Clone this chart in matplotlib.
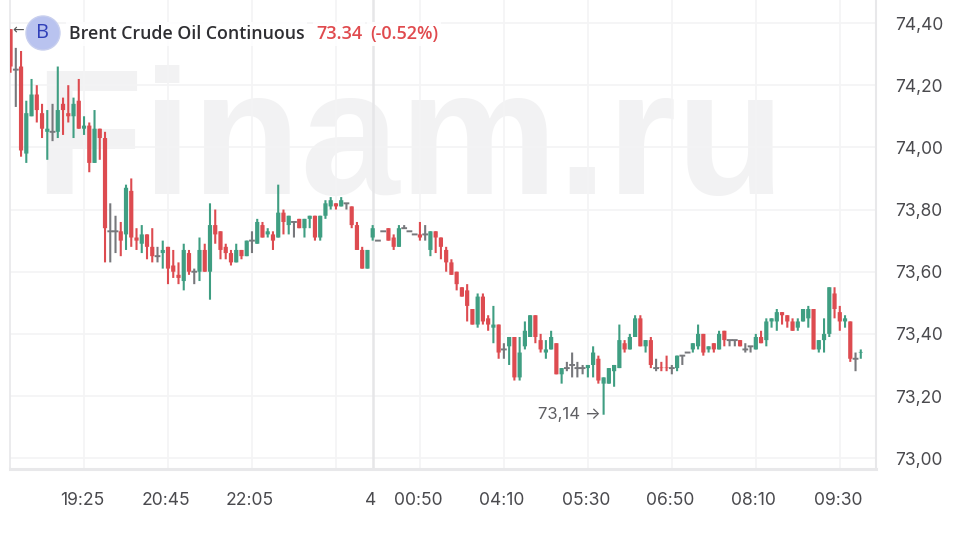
# -*- coding: utf-8 -*-
from matplotlib import pyplot as plt
from matplotlib.patches import Circle
from matplotlib.transforms import IdentityTransform, ScaledTranslation

# 5 minute candles, Brent Crude Oil Continuous
opens = [
    74.38, 74.25, 74.26, 73.98, 74.10, 74.17, 74.11, 74.05, 74.05, 74.05,
    74.14, 74.11, 74.10, 74.15, 74.06, 74.07, 73.95, 74.06, 74.03, 73.73,
    73.73, 73.73, 73.72, 73.86, 73.71, 73.69, 73.72, 73.68, 73.65, 73.66,
    73.68, 73.62, 73.59, 73.57, 73.66, 73.60, 73.60, 73.67, 73.60, 73.75,
    73.73, 73.68, 73.66, 73.63, 73.67, 73.65, 73.70, 73.69, 73.75, 73.72,
    73.72, 73.71, 73.79, 73.75, 73.76, 73.77, 73.74, 73.77, 73.78, 73.71,
    73.78, 73.81, 73.82, 73.81, 73.82, 73.81, 73.75, 73.67, 73.61, 73.71,
    73.70, 73.73, 73.74, 73.71, 73.68, 73.74, 73.73, 73.72, 73.72, 73.72,
    73.67, 73.73, 73.71, 73.67, 73.63, 73.60, 73.55, 73.54, 73.48, 73.43,
    73.52, 73.45, 73.42, 73.43, 73.35, 73.36, 73.39, 73.26, 73.36, 73.39,
    73.46, 73.38, 73.34, 73.35, 73.37, 73.27, 73.29, 73.30, 73.29, 73.29,
    73.29, 73.30, 73.32, 73.24, 73.24, 73.28, 73.29, 73.37, 73.35, 73.39,
    73.45, 73.36, 73.38, 73.29, 73.292, 73.292, 73.29, 73.29, 73.33, 73.34,
    73.35, 73.36, 73.40, 73.35, 73.37, 73.35, 73.41, 73.38, 73.38, 73.38,
    73.35, 73.36, 73.35, 73.39, 73.38, 73.44, 73.44, 73.47, 73.46, 73.44,
    73.42, 73.44, 73.45, 73.48, 73.35, 73.38, 73.40, 73.53, 73.47, 73.44,
    73.44, 73.32, 73.34,
]
highs = [
    74.38, 74.32, 74.31, 74.15, 74.22, 74.20, 74.14, 74.12, 74.14, 74.26,
    74.16, 74.20, 74.16, 74.22, 74.10, 74.08, 74.12, 74.06, 74.05, 73.82,
    73.78, 73.76, 73.88, 73.90, 73.74, 73.75, 73.72, 73.74, 73.68, 73.70,
    73.68, 73.67, 73.63, 73.69, 73.67, 73.61, 73.71, 73.69, 73.82, 73.80,
    73.73, 73.69, 73.67, 73.69, 73.67, 73.70, 73.73, 73.77, 73.76, 73.74,
    73.73, 73.88, 73.80, 73.78, 73.76, 73.77, 73.77, 73.78, 73.78, 73.78,
    73.83, 73.84, 73.82, 73.84, 73.82, 73.81, 73.76, 73.68, 73.67, 73.75,
    73.70, 73.73, 73.74, 73.72, 73.75, 73.75, 73.73, 73.72, 73.76, 73.75,
    73.73, 73.73, 73.71, 73.68, 73.64, 73.60, 73.55, 73.56, 73.48, 73.53,
    73.53, 73.46, 73.49, 73.43, 73.37, 73.39, 73.39, 73.39, 73.44, 73.46,
    73.46, 73.40, 73.38, 73.41, 73.37, 73.29, 73.31, 73.34, 73.31, 73.30,
    73.30, 73.36, 73.33, 73.26, 73.29, 73.30, 73.43, 73.38, 73.40, 73.46,
    73.46, 73.38, 73.39, 73.32, 73.31, 73.33, 73.30, 73.33, 73.33, 73.34,
    73.37, 73.43, 73.40, 73.36, 73.37, 73.41, 73.41, 73.38, 73.38, 73.38,
    73.37, 73.36, 73.40, 73.41, 73.45, 73.45, 73.48, 73.47, 73.46, 73.45,
    73.45, 73.48, 73.49, 73.48, 73.38, 73.45, 73.55, 73.55, 73.49, 73.46,
    73.44, 73.34, 73.35,
]
lows = [
    74.24, 74.13, 73.97, 73.95, 74.10, 74.08, 74.03, 73.96, 74.02, 74.03,
    74.04, 74.08, 74.03, 74.06, 74.04, 73.92, 73.95, 73.96, 73.63, 73.63,
    73.66, 73.65, 73.67, 73.68, 73.67, 73.66, 73.64, 73.63, 73.63, 73.61,
    73.56, 73.58, 73.56, 73.54, 73.59, 73.56, 73.57, 73.60, 73.51, 73.69,
    73.64, 73.64, 73.62, 73.63, 73.64, 73.65, 73.66, 73.69, 73.71, 73.71,
    73.67, 73.71, 73.72, 73.72, 73.71, 73.74, 73.71, 73.74, 73.70, 73.70,
    73.77, 73.80, 73.80, 73.81, 73.80, 73.74, 73.67, 73.61, 73.61, 73.70,
    73.70, 73.73, 73.70, 73.67, 73.68, 73.74, 73.73, 73.72, 73.70, 73.70,
    73.65, 73.66, 73.64, 73.60, 73.59, 73.54, 73.52, 73.44, 73.43, 73.42,
    73.43, 73.41, 73.37, 73.32, 73.32, 73.30, 73.25, 73.25, 73.35, 73.39,
    73.37, 73.34, 73.32, 73.35, 73.27, 73.24, 73.28, 73.26, 73.26, 73.27,
    73.26, 73.26, 73.24, 73.14, 73.24, 73.23, 73.29, 73.34, 73.35, 73.39,
    73.36, 73.34, 73.29, 73.28, 73.28, 73.28, 73.27, 73.28, 73.30, 73.34,
    73.34, 73.35, 73.33, 73.34, 73.34, 73.35, 73.36, 73.36, 73.36, 73.36,
    73.34, 73.34, 73.35, 73.37, 73.36, 73.42, 73.41, 73.43, 73.42, 73.41,
    73.41, 73.44, 73.42, 73.35, 73.34, 73.34, 73.39, 73.45, 73.41, 73.42,
    73.31, 73.28, 73.32,
]
closes = [
    74.26, 74.25, 73.99, 74.11, 74.17, 74.12, 74.06, 74.06, 74.05, 74.12,
    74.12, 74.10, 74.14, 74.06, 74.07, 73.95, 74.06, 74.03, 73.74, 73.73,
    73.73, 73.70, 73.87, 73.71, 73.70, 73.72, 73.68, 73.65, 73.65, 73.67,
    73.61, 73.60, 73.58, 73.67, 73.60, 73.60, 73.67, 73.60, 73.75, 73.72,
    73.67, 73.66, 73.63, 73.67, 73.65, 73.70, 73.70, 73.76, 73.71, 73.73,
    73.70, 73.79, 73.76, 73.78, 73.76, 73.74, 73.77, 73.78, 73.71, 73.78,
    73.82, 73.83, 73.81, 73.83, 73.82, 73.75, 73.67, 73.61, 73.67, 73.74,
    73.70, 73.73, 73.70, 73.68, 73.74, 73.74, 73.73, 73.72, 73.71, 73.72,
    73.73, 73.71, 73.68, 73.63, 73.59, 73.56, 73.52, 73.49, 73.43, 73.52,
    73.44, 73.43, 73.43, 73.34, 73.35, 73.39, 73.26, 73.34, 73.41, 73.46,
    73.39, 73.35, 73.35, 73.39, 73.27, 73.29, 73.29, 73.30, 73.29, 73.29,
    73.30, 73.34, 73.25, 73.26, 73.29, 73.30, 73.38, 73.35, 73.39, 73.45,
    73.36, 73.38, 73.30, 73.29, 73.29, 73.29, 73.29, 73.33, 73.33, 73.34,
    73.37, 73.40, 73.34, 73.36, 73.35, 73.40, 73.38, 73.38, 73.38, 73.36,
    73.35, 73.36, 73.39, 73.37, 73.44, 73.45, 73.47, 73.46, 73.44, 73.41,
    73.44, 73.48, 73.48, 73.35, 73.38, 73.40, 73.55, 73.48, 73.44, 73.45,
    73.32, 73.32, 73.342,
]

price_ticks = [73.0, 73.2, 73.4, 73.6, 73.8, 74.0, 74.2, 74.4]
grid_bars = [14, 30, 46, 62, 78, 94, 110, 126, 142, 158]
time_bars = [14, 30, 46, 69, 78, 94, 110, 126, 142, 158]
time_labels = ["19:25", "20:45", "22:05", "4", "00:50", "04:10", "05:30",
               "06:50", "08:10", "09:30"]
day_bar = 69

RED = "#dd4b50"
GREEN = "#3f9e82"
GRAY = "#77787c"
GRID = "#f4f4f5"
LINE = "#e8e8ea"
TEXT = "#4a4a4e"

W, H = 957, 537
fig = plt.figure(figsize=(W / 100, H / 100), dpi=100, facecolor="white")
ax = fig.add_axes([9.5 / W, (H - 468.5) / H, 866.5 / W, 468.5 / H])
ax.set_xlim(-0.2, 164.9)
ax.set_ylim(72.967, 74.474)
ax.set_facecolor("white")

ax.spines["top"].set_visible(False)
for s in ["left", "right", "bottom"]:
    ax.spines[s].set_color(LINE)
ax.spines["left"].set_linewidth(1.2)
ax.spines["right"].set_linewidth(1.5)
ax.spines["bottom"].set_linewidth(2.2)

# watermark, kept inside the axes so that the candles stay on top
ax.text(34 / W, 1 - 194 / H, "Finam.ru", transform=fig.transFigure,
        family="Liberation Sans", weight="bold", size=128, color="#f2f2f3",
        ha="left", va="baseline", zorder=0.5, clip_on=False)

# grid
for p in price_ticks:
    ax.axhline(p, color=GRID, lw=1.2, zorder=1)
for b in grid_bars:
    ax.axvline(b, color=GRID, lw=1.2, zorder=1)
ax.axvline(day_bar, color="#e6e6e8", lw=1.8, zorder=1)

# candles, no pixel snapping or the widths come out uneven
for i, (o, h, l, c) in enumerate(zip(opens, highs, lows, closes, strict=True)):
    col = GRAY if o == c else (GREEN if c > o else RED)
    ax.vlines(i, l, h, color=col, lw=1.5, zorder=3, snap=False)
    if o == c:
        ax.hlines(o, i - 0.55, i + 0.55, color=col, lw=1.4, zorder=3, snap=False)
    else:
        ax.bar(i, abs(c - o), bottom=min(o, c), width=0.8, color=col,
               linewidth=0, zorder=4, snap=False)

# lowest price marker
low_bar = lows.index(min(lows))
ax.annotate("73,14 \u2192", xy=(low_bar, min(lows)), xytext=(-3, 0),
            textcoords="offset pixels", ha="right", va="center",
            family="Inter", size=12, color="#5f5f63", zorder=5)

ax.yaxis.tick_right()
ax.set_yticks(price_ticks)
ax.set_yticklabels([f"{p:.2f}".replace(".", ",") for p in price_ticks],
                   family="Inter", size=12.5, color=TEXT)
ax.tick_params(axis="y", length=0, pad=14)
ax.set_xticks(time_bars)
ax.set_xticklabels(time_labels, family="Inter", size=12.6, color=TEXT)
ax.tick_params(axis="x", length=0, pad=17)
shift = ScaledTranslation(-2 / 100, 0, fig.dpi_scale_trans)
for lab in ax.get_xticklabels():
    lab.set_transform(lab.get_transform() + shift)

# header
bg = dict(facecolor="white", edgecolor="none", pad=2, alpha=0.9)
fig.text(69 / W, 1 - 34 / H, "Brent Crude Oil Continuous", family="Open Sans",
         weight="semibold", size=12.8, color="#2f2f33", va="center", bbox=bg,
         zorder=6)
fig.text(316 / W, 1 - 34 / H, "73.34", family="Open Sans", weight="semibold",
         size=13, color="#e04a4e", va="center", bbox=bg, zorder=6)
fig.text(370 / W, 1 - 34 / H, "(-0.52%)", family="Open Sans", weight="semibold",
         size=13, color="#e04a4e", va="center", bbox=bg, zorder=6)
fig.text(18 / W, 1 - 30 / H, "\u2190", size=10, color="#555555", ha="center",
         va="center", zorder=6)
fig.add_artist(Circle((43, H - 33), 17, transform=IdentityTransform(),
                      facecolor="#b9c3ef", edgecolor="#c8cfee", lw=1,
                      zorder=6))
fig.text(43 / W, 1 - 33 / H, "B", family="Open Sans", size=14.5,
         color="#2f3fb8", ha="center", va="center", zorder=7)

fig.savefig("out.png", dpi=100)
